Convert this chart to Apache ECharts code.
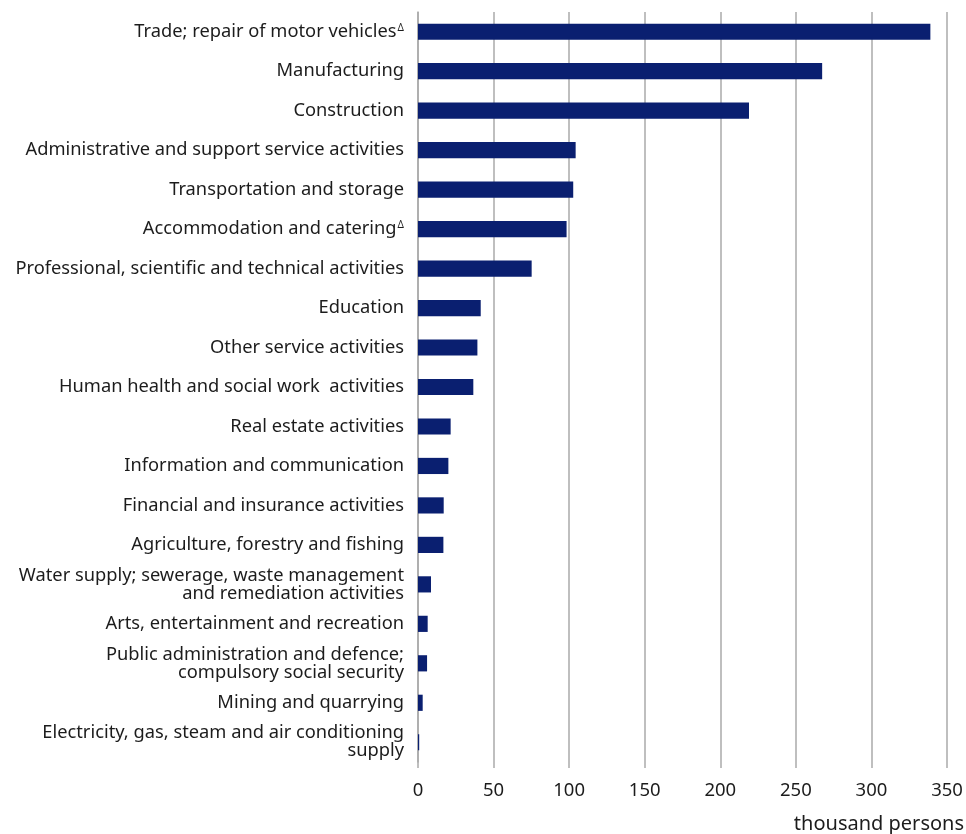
<!DOCTYPE html>
<html>
<head>
<meta charset="utf-8">
<script src="https://cdn.jsdelivr.net/npm/echarts@6/dist/echarts.min.js"></script>
<style>
html,body{margin:0;padding:0;background:#fff;}
#chart{width:966px;height:834px;}
</style>
</head>
<body>
<div id="chart"></div>
<script>
const categories = [
  "Trade; repair of motor vehicles",
  "Manufacturing",
  "Construction",
  "Administrative and support service activities",
  "Transportation and storage",
  "Accommodation and catering",
  "Professional, scientific and technical activities",
  "Education",
  "Other service activities",
  "Human health and social work  activities",
  "Real estate activities",
  "Information and communication",
  "Financial and insurance activities",
  "Agriculture, forestry and fishing",
  "Water supply; sewerage, waste management\nand remediation activities",
  "Arts, entertainment and recreation",
  "Public administration and defence;\ncompulsory social security",
  "Mining and quarrying",
  "Electricity, gas, steam and air conditioning\nsupply"
];
const footnoted = ["Trade; repair of motor vehicles", "Accommodation and catering"];
const values = [339, 267.4, 219, 104.3, 102.7, 98.3, 75.2, 41.5, 39.3, 36.6, 21.6, 20.1, 17, 16.8, 8.6, 6.4, 6, 3.1, 0.8];
const xTicks = [0, 50, 100, 150, 200, 250, 300, 350];
const unitLabel = "thousand persons";

const chart = echarts.init(document.getElementById('chart'), null, {renderer: 'canvas'});
const FONT = 'Noto Sans';
chart.setOption({
  animation: false,
  backgroundColor: '#ffffff',
  textStyle: {fontFamily: FONT},
  title: {
    text: unitLabel,
    right: 2,
    top: 811,
    padding: 0,
    textStyle: {fontFamily: FONT, fontSize: 20, fontWeight: 'normal', color: '#1c1c1c', lineHeight: 26}
  },
  grid: {left: 418, right: 19, top: 12, bottom: 72, containLabel: false},
  xAxis: {
    type: 'value',
    min: xTicks[0],
    max: xTicks[xTicks.length - 1],
    interval: 50,
    axisLine: {show: false},
    axisTick: {show: true, length: 6, lineStyle: {color: '#aaaaaa', width: 1.5}},
    splitLine: {show: true, lineStyle: {color: '#aaaaaa', width: 1.5}},
    axisLabel: {fontFamily: FONT, fontSize: 18.5, color: '#1c1c1c', margin: 19}
  },
  yAxis: {
    type: 'category',
    inverse: true,
    data: categories,
    axisLine: {show: true, lineStyle: {color: '#aaaaaa', width: 1.5}},
    axisTick: {show: false},
    axisLabel: {
      fontFamily: FONT, fontSize: 18.3, color: '#1c1c1c', margin: 14, lineHeight: 18, align: 'right',
      formatter: function (v) {
        return footnoted.indexOf(v) >= 0 ? v + '{sup|Δ}' : v;
      },
      rich: {
        sup: {fontFamily: FONT, fontSize: 10, color: '#1c1c1c', verticalAlign: 'top', padding: [0, 0, 11, 1]}
      }
    }
  },
  series: [{
    type: 'bar',
    data: values,
    barWidth: '41%',
    itemStyle: {color: '#0a1f70'},
    silent: true
  }]
});
</script>
</body>
</html>
